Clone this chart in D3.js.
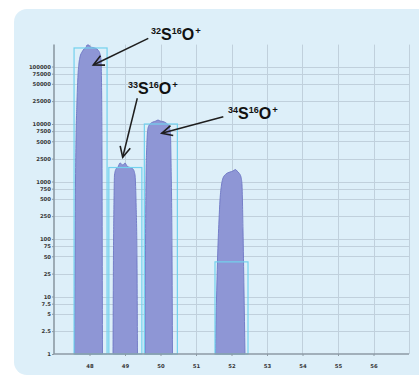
<!DOCTYPE html>
<html>
<head>
<meta charset="utf-8">
<script src="https://cdn.jsdelivr.net/npm/d3@7"></script>
<style>
  html, body { margin: 0; padding: 0; background: #ffffff; }
  svg { display: block; }
</style>
</head>
<body>
<svg id="chart" width="419" height="379"></svg>
<script>
// ---- data -------------------------------------------------------------
// nominal m/z grid and tick labels
const gridMasses = [48, 49, 50, 51, 52, 53, 54, 55, 56, 57];
const massTicks = [48, 49, 50, 51, 52, 53, 54, 55, 56];
const countTicks = [1, 2.5, 5, 7.5, 10, 25, 50, 75, 100, 250, 500, 750, 1000,
                    2500, 5000, 7500, 10000, 25000, 50000, 75000, 100000];

// measured peak profiles (m/z, counts)
const peak48Mass = [47.577, 47.592, 47.606, 47.620, 47.648, 47.676, 47.704, 47.732, 47.789, 47.845,
                    47.901, 47.930, 47.986, 48.014, 48.099, 48.183, 48.239, 48.296, 48.324, 48.338, 48.352, 48.366];
const peak48Counts = [1, 64, 1062, 5270, 26100, 71100, 115100, 146200, 178600, 201500,
                      213800, 236500, 236500, 218500, 213800, 205700, 193700, 165000, 129800, 58200, 3530, 1];

const peak49Mass = [48.662, 48.676, 48.690, 48.704, 48.746, 48.803, 48.859, 48.915, 48.944, 49.000,
                    49.056, 49.141, 49.225, 49.282, 49.310, 49.338, 49.352];
const peak49Counts = [1, 64, 477, 1297, 1650, 1786, 2100, 1977, 1936, 2100,
                      1862, 1750, 1650, 1297, 477, 43, 1];

const peak50Mass = [49.563, 49.577, 49.592, 49.620, 49.648, 49.704, 49.789, 49.873, 49.930, 49.986,
                    50.070, 50.155, 50.239, 50.282, 50.296, 50.324, 50.338];
const peak50Counts = [1, 64, 1062, 5270, 8510, 10000, 10830, 11280, 11740, 11280,
                      11050, 10410, 9230, 6440, 2365, 64, 1];

const peak52Mass = [51.549, 51.563, 51.577, 51.606, 51.648, 51.676, 51.718, 51.761, 51.845, 51.958,
                    52.042, 52.113, 52.155, 52.211, 52.268, 52.296, 52.324, 52.352, 52.380];
const peak52Counts = [1, 4.4, 8.7, 43, 214, 477, 869, 1151, 1349, 1463,
                      1523, 1617, 1523, 1405, 1197, 869, 143, 13, 1];

// integration windows: centre m/z, expected counts
const windowCenters = [48.03, 49.01, 50.01, 52.0];
const windowCounts = [210000, 1750, 10000, 40];
const windowHalfWidth = 0.465;

// species annotations
const speciesIsotope = ["32", "33", "34"];
const labelMass = [49.732, 49.085, 51.901];
const labelCounts = [289000, 33250, 12220];
const arrowFromMass = [49.656, 49.346, 51.769];
const arrowFromCounts = [309000, 28000, 13400];
const arrowToMass = [48.107, 48.935, 50.034];
const arrowToCounts = [106200, 2636, 6890];

// ---- layout -----------------------------------------------------------
const svg = d3.select("#chart");
const plotLeft = 54, plotRight = 409, plotBottom = 354, perDecade = 57.5;
const yMax = 250000;

const x = d3.scaleLinear().domain([47, 57]).range([plotLeft, plotRight]);
const y = d3.scaleLog().domain([1, yMax])
  .range([plotBottom, plotBottom - perDecade * Math.log10(yMax)]);
const plotTop = y(yMax);

// background panel
svg.append("rect").attr("width", 419).attr("height", 379).attr("fill", "#ffffff");
svg.append("rect")
  .attr("x", 14).attr("y", 9).attr("width", 430).attr("height", 366)
  .attr("rx", 13).attr("ry", 13)
  .attr("fill", "#ddeff9");

// grid
const grid = svg.append("g").attr("stroke", "#c0d0dc").attr("stroke-width", 1);
grid.selectAll("line.h").data(countTicks.filter(d => d > 1)).join("line")
  .attr("class", "h")
  .attr("x1", plotLeft).attr("x2", plotRight)
  .attr("y1", d => Math.round(y(d)) + 0.5).attr("y2", d => Math.round(y(d)) + 0.5);
grid.selectAll("line.v").data(gridMasses).join("line")
  .attr("class", "v")
  .attr("y1", plotTop + 1).attr("y2", plotBottom)
  .attr("x1", d => Math.round(x(d)) + 0.5).attr("x2", d => Math.round(x(d)) + 0.5);

// peaks
const area = d3.area()
  .x(d => x(d[0]))
  .y0(y(1))
  .y1(d => y(d[1]))
  .curve(d3.curveMonotoneX);

const peaks = [
  d3.zip(peak48Mass, peak48Counts),
  d3.zip(peak49Mass, peak49Counts),
  d3.zip(peak50Mass, peak50Counts),
  d3.zip(peak52Mass, peak52Counts)
];
svg.append("g").selectAll("path").data(peaks).join("path")
  .attr("d", area)
  .attr("fill", "#8e96d5")
  .attr("stroke", "#6d76c4")
  .attr("stroke-width", 0.9);

// integration windows
svg.append("g").selectAll("rect").data(d3.range(windowCenters.length)).join("rect")
  .attr("x", i => x(windowCenters[i] - windowHalfWidth))
  .attr("width", i => x(windowCenters[i] + windowHalfWidth) - x(windowCenters[i] - windowHalfWidth))
  .attr("y", i => y(windowCounts[i]))
  .attr("height", i => y(1) - y(windowCounts[i]))
  .attr("fill", "none")
  .attr("stroke", "#72d1ee")
  .attr("stroke-width", 1.2);

// axes
const tickFont = "'DejaVu Sans', sans-serif";
const yAxis = svg.append("g")
  .attr("transform", `translate(${plotLeft},0)`)
  .call(d3.axisLeft(y).tickValues(countTicks).tickFormat(d => String(d)).tickSize(2).tickPadding(1));
yAxis.select(".domain").remove();
yAxis.append("line").attr("x1", 0).attr("x2", 0).attr("y1", plotTop + 1).attr("y2", plotBottom)
  .attr("stroke", "#8d9aa4").attr("stroke-width", 1.6);

const xAxis = svg.append("g")
  .attr("transform", `translate(0,${plotBottom})`)
  .call(d3.axisBottom(x).tickValues(massTicks).tickFormat(d => String(d)).tickSize(2).tickPadding(8));
xAxis.select(".domain").remove();
xAxis.append("line").attr("x1", plotLeft).attr("x2", plotRight).attr("y1", 0).attr("y2", 0)
  .attr("stroke", "#8d9aa4").attr("stroke-width", 1.6);

[yAxis, xAxis].forEach(g => {
  g.selectAll(".tick line").attr("stroke", "#8d9aa4");
  g.selectAll(".tick text")
    .attr("font-family", tickFont)
    .attr("font-weight", "bold")
    .attr("font-size", 5.3)
    .attr("fill", "#353535");
});

// annotation arrows
const defs = svg.append("defs");
defs.append("marker")
  .attr("id", "head")
  .attr("viewBox", "-12 -7 14 14")
  .attr("refX", 0).attr("refY", 0)
  .attr("markerWidth", 14).attr("markerHeight", 14)
  .attr("markerUnits", "userSpaceOnUse")
  .attr("orient", "auto")
  .append("path")
  .attr("d", "M-10.5,-5.2L0,0L-10.5,5.2")
  .attr("fill", "none")
  .attr("stroke", "#1e1e1e")
  .attr("stroke-width", 1.6);

svg.append("g").selectAll("line").data(d3.range(speciesIsotope.length)).join("line")
  .attr("x1", i => x(arrowFromMass[i]))
  .attr("y1", i => y(arrowFromCounts[i]))
  .attr("x2", i => x(arrowToMass[i]))
  .attr("y2", i => y(arrowToCounts[i]))
  .attr("stroke", "#1e1e1e")
  .attr("stroke-width", 1.5)
  .attr("marker-end", "url(#head)");

// species labels: isotope superscripts, S, 16, O, +
const labelFont = "'Liberation Sans', Arial, sans-serif";
const labels = svg.append("g")
  .attr("font-family", labelFont)
  .attr("font-weight", "bold")
  .attr("fill", "#111111");
speciesIsotope.forEach((iso, i) => {
  const t = labels.append("text")
    .attr("x", x(labelMass[i]))
    .attr("y", y(labelCounts[i]));
  t.append("tspan").attr("font-size", 9).attr("dy", -5.5).text(iso);
  t.append("tspan").attr("font-size", 16).attr("dy", 5.5).text("S");
  t.append("tspan").attr("font-size", 9).attr("dy", -5.5).text("16");
  t.append("tspan").attr("font-size", 16).attr("dy", 5.5).text("O");
  t.append("tspan").attr("font-size", 9.5).attr("dy", -5.5).attr("dx", 1).text("+");
});
</script>
</body>
</html>
